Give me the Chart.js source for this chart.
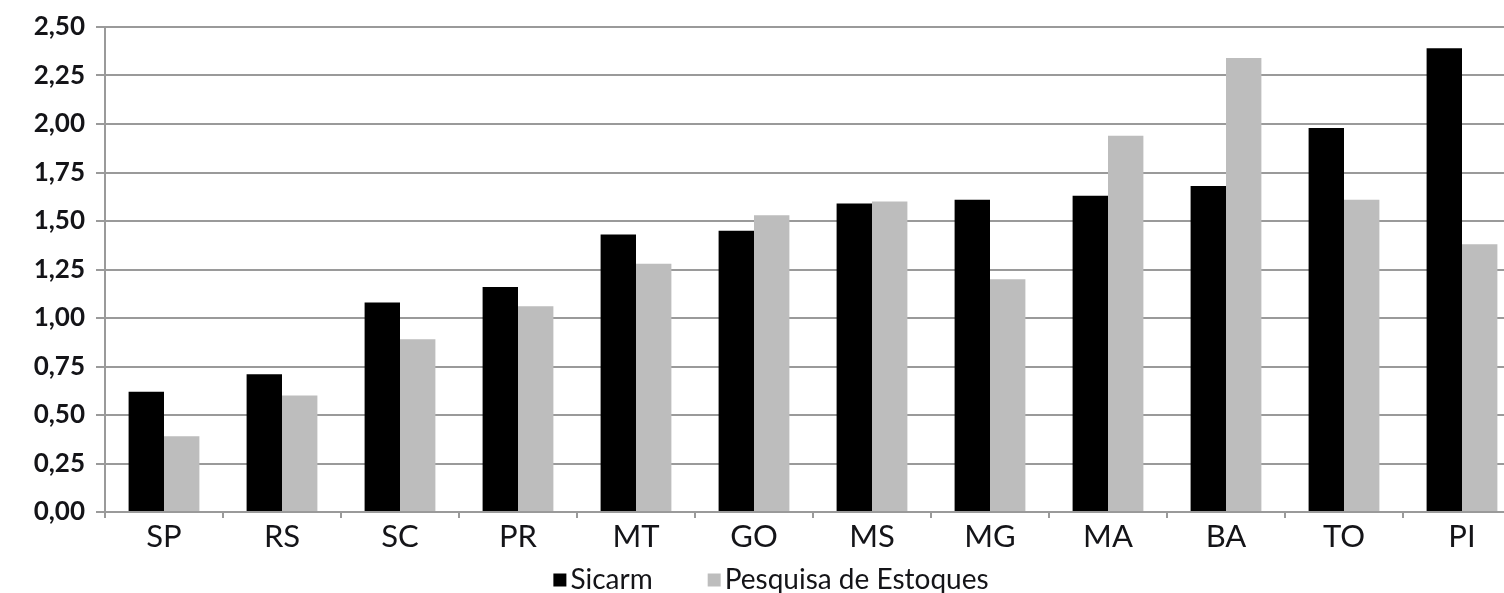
<!DOCTYPE html>
<html>
<head>
<meta charset="utf-8">
<script src="https://cdn.jsdelivr.net/npm/chart.js@4/dist/chart.umd.min.js"></script>
<style>
  html, body { margin: 0; padding: 0; background: #fff; overflow: hidden; width: 1504px; height: 593px; }
  #wrap { position: absolute; left: 0; top: 0; width: 1542px; height: 593px; }
</style>
</head>
<body>
<div id="wrap"><canvas id="c" width="1542" height="593"></canvas></div>
<script>
// Estados (UF)
const categories = ['SP', 'RS', 'SC', 'PR', 'MT', 'GO', 'MS', 'MG', 'MA', 'BA', 'TO', 'PI'];
// Sicarm
const sicarm = [0.62, 0.71, 1.08, 1.16, 1.43, 1.45, 1.59, 1.61, 1.63, 1.68, 1.98, 2.39];
// Pesquisa de Estoques
const pesquisa = [0.39, 0.60, 0.89, 1.06, 1.28, 1.53, 1.60, 1.20, 1.94, 2.34, 1.61, 1.38];
// Eixo Y
const yTicks = [0, 0.25, 0.5, 0.75, 1, 1.25, 1.5, 1.75, 2, 2.25, 2.5];

const seriesNames = ['Sicarm', 'Pesquisa de Estoques'];
const seriesColors = ['#000000', '#bdbdbd'];

const textColor = '#141418';
const gridColor = '#9a9a9a';

// Legenda desenhada abaixo do eixo X, centrada no canvas
const bottomLegend = {
  id: 'bottomLegend',
  afterDraw(chart) {
    const ctx = chart.ctx;
    const box = 13, gapText = 4, gapItem = 55;
    ctx.save();
    ctx.font = '28px Lato';
    const items = chart.data.datasets.map(ds => ({
      label: ds.label, color: ds.backgroundColor, w: ctx.measureText(ds.label).width
    }));
    let total = 0;
    items.forEach((it, i) => { total += box + gapText + it.w + (i < items.length - 1 ? gapItem : 0); });
    let x = chart.width / 2 - total / 2;
    const cy = 580;
    items.forEach(it => {
      ctx.fillStyle = it.color;
      ctx.fillRect(x, cy - box / 2, box, box);
      x += box + gapText;
      ctx.fillStyle = textColor;
      ctx.textBaseline = 'middle';
      ctx.textAlign = 'left';
      ctx.fillText(it.label, x, cy);
      x += it.w + gapItem;
    });
    ctx.restore();
  }
};

new Chart(document.getElementById('c'), {
  type: 'bar',
  data: {
    labels: categories,
    datasets: [
      { label: seriesNames[0], data: sicarm, backgroundColor: seriesColors[0], borderWidth: 0 },
      { label: seriesNames[1], data: pesquisa, backgroundColor: seriesColors[1], borderWidth: 0 }
    ]
  },
  options: {
    responsive: false,
    animation: false,
    devicePixelRatio: 1,
    layout: { padding: { left: 22, right: 21, top: 27, bottom: 0 } },
    plugins: { legend: { display: false }, tooltip: { enabled: false } },
    datasets: { bar: { categoryPercentage: 0.6, barPercentage: 1.0 } },
    scales: {
      x: {
        offset: true,
        grid: { display: true, drawOnChartArea: false, drawTicks: true, tickLength: 6, color: gridColor, lineWidth: 2 },
        border: { display: true, color: gridColor, width: 2 },
        ticks: { color: textColor, font: { family: 'Lato', size: 31 }, padding: 0, maxRotation: 0, autoSkip: false },
        afterFit(scale) { scale.height = 81; }
      },
      y: {
        min: 0,
        max: 2.5,
        afterBuildTicks(scale) { scale.ticks = yTicks.map(v => ({ value: v })); },
        grid: { color: gridColor, lineWidth: 2, tickLength: 9, drawTicks: true },
        border: { display: true, color: gridColor, width: 2 },
        ticks: {
          color: textColor,
          font: { family: 'Lato', size: 26, weight: 'bold' },
          padding: 11,
          callback: v => Number(v).toFixed(2).replace('.', ',')
        },
        afterFit(scale) { scale.width = 83; }
      }
    }
  },
  plugins: [bottomLegend]
});
</script>
</body>
</html>
